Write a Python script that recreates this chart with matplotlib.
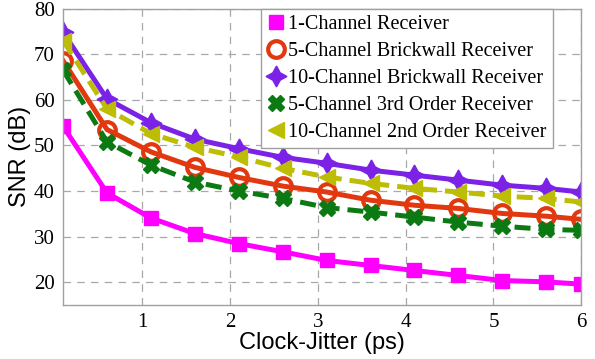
import numpy as np
import matplotlib
matplotlib.use("Agg")
import matplotlib.pyplot as plt

# clock jitter (ps)
jitter = [0.1, 0.6, 1.1, 1.6, 2.1, 2.6, 3.1, 3.6, 4.1, 4.6, 5.1, 5.6, 6.0]

# SNR (dB) per receiver
snr_1ch = [54.2, 39.6, 34.1, 30.7, 28.5, 26.7, 24.8, 23.7, 22.6, 21.5, 20.4, 20.1, 19.6]
snr_5ch_bw = [68.6, 53.5, 48.6, 45.2, 43.0, 41.1, 39.8, 38.0, 36.9, 36.2, 35.1, 34.5, 33.8]
snr_10ch_bw = [74.8, 60.2, 55.0, 51.4, 49.3, 47.4, 46.1, 44.6, 43.5, 42.4, 41.3, 40.6, 39.8]
snr_5ch_3rd = [66.5, 50.8, 45.7, 42.0, 40.0, 38.4, 36.4, 35.4, 34.3, 33.2, 32.3, 31.6, 31.4]
snr_10ch_2nd = [73.0, 58.0, 52.6, 49.6, 47.5, 45.0, 43.1, 41.7, 40.6, 39.8, 38.9, 38.4, 37.6]

labels = [
    "1-Channel Receiver",
    "5-Channel Brickwall Receiver",
    "10-Channel Brickwall Receiver",
    "5-Channel 3rd Order Receiver",
    "10-Channel 2nd Order Receiver",
]

fig = plt.figure(figsize=(5.95, 3.59), dpi=100)
ax = fig.add_axes([0.106, 0.150, 0.871, 0.826])

lw = 3.6
dash = (0, (3.2, 1.6))
ax.plot(jitter, snr_1ch, color="#FF00FF", lw=lw, marker="s", ms=10, label=labels[0])
ax.plot(jitter, snr_5ch_bw, color="#E2380F", lw=lw, marker="o", ms=12,
        mfc="none", mew=3.0, label=labels[1])
ax.plot(jitter, snr_10ch_bw, color="#7B22E6", lw=lw, marker=(4, 1, 0), ms=15,
        label=labels[2])
ax.plot(jitter, snr_5ch_3rd, color="#0B7A12", lw=lw, ls=dash,
        marker="X", ms=12, label=labels[3])
ax.plot(jitter, snr_10ch_2nd, color="#BDBD06", lw=lw, ls=dash,
        marker="<", ms=12, label=labels[4])

ax.set_xlim(0.1, 6)
ax.set_ylim(15, 80)
ax.set_xticks([1, 2, 3, 4, 5, 6])
ax.set_yticks([20, 30, 40, 50, 60, 70, 80])

ax.grid(True, ls=(0, (6, 5)), color="#A8A8A8", lw=0.9)
for s in ax.spines.values():
    s.set_color("#A0A0A0")
    s.set_linewidth(1.0)
ax.tick_params(direction="in", length=0, labelsize=15, pad=6)
for t in ax.get_xticklabels() + ax.get_yticklabels():
    t.set_fontfamily("Liberation Serif")

ax.set_xlabel("Clock-Jitter (ps)", fontsize=17, fontfamily="Liberation Sans", labelpad=0)
ax.set_ylabel("SNR (dB)", fontsize=17, fontfamily="Liberation Sans", labelpad=2)

leg = ax.legend(loc="upper right", bbox_to_anchor=(0.945, 1.0),
                prop={"family": "Liberation Serif", "size": 14.5},
                fancybox=False, framealpha=1, edgecolor="#A0A0A0",
                handlelength=0.85, handletextpad=0.2, borderpad=0.3,
                borderaxespad=0.0, labelspacing=0.4)
leg.get_frame().set_linewidth(1.0)
for h in leg.get_lines():
    h.set_linestyle("none")

fig.savefig("out.png", dpi=100)
